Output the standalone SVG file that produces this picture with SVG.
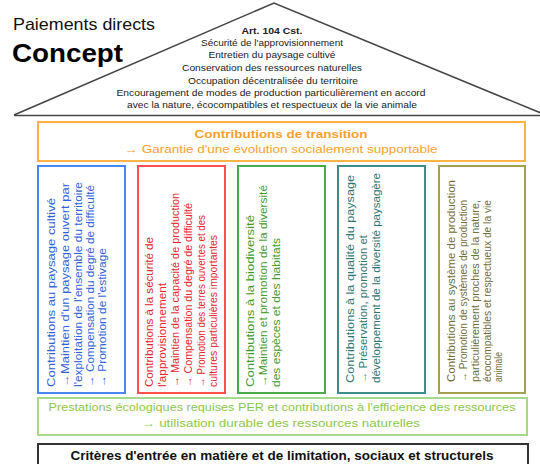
<svg xmlns="http://www.w3.org/2000/svg" width="540" height="464" viewBox="0 0 540 464">
<style>
text{font-family:"Liberation Sans",Arial,sans-serif}
.box{fill:#fff;stroke-width:2}
.roof{font-size:9.5px;fill:#222;text-anchor:middle}
.pt{font-size:11px}
.bl{fill:#2f62d8}.rd{fill:#e8242c}.gr{fill:#3f9a2f}.tl{fill:#2e7676}.ol{fill:#6f6f3c}
</style>
<rect width="540" height="464" fill="#fff"/>
<g id="title">
<text x="13" y="30" font-size="16.5" fill="#111" textLength="142" lengthAdjust="spacingAndGlyphs">Paiements directs</text>
<text x="12" y="62" font-size="25" font-weight="bold" fill="#000" textLength="111" lengthAdjust="spacingAndGlyphs">Concept</text>
</g>
<g id="roof">
<path d="M14,115 L274,3 L548,116" fill="none" stroke="#444" stroke-width="1.6"/>
<line x1="14" y1="115.5" x2="540" y2="115.5" stroke="#444" stroke-width="1.6"/>
<text class="roof" x="272" y="34" font-weight="bold" textLength="61" lengthAdjust="spacingAndGlyphs">Art. 104 Cst.</text>
<text class="roof" x="272" y="46" textLength="142" lengthAdjust="spacingAndGlyphs">Sécurité de l'approvisionnement</text>
<text class="roof" x="272" y="58" textLength="127" lengthAdjust="spacingAndGlyphs">Entretien du paysage cultivé</text>
<text class="roof" x="272" y="71" textLength="180" lengthAdjust="spacingAndGlyphs">Conservation des ressources naturelles</text>
<text class="roof" x="273" y="84" textLength="170" lengthAdjust="spacingAndGlyphs">Occupation décentralisée du territoire</text>
<text class="roof" x="271" y="96" textLength="309" lengthAdjust="spacingAndGlyphs">Encouragement de modes de production particulièrement en accord</text>
<text class="roof" x="272" y="108" textLength="290" lengthAdjust="spacingAndGlyphs">avec la nature, écocompatibles et respectueux de la vie animale</text>
</g>
<g id="transition">
<rect class="box" x="38" y="122" width="487" height="39" stroke="#ffb347"/>
<text x="281" y="138" font-size="11.5" font-weight="bold" fill="#f7a030" text-anchor="middle" textLength="173" lengthAdjust="spacingAndGlyphs">Contributions de transition</text>
<text x="281" y="153" font-size="11.5" fill="#f7a030" text-anchor="middle" textLength="313" lengthAdjust="spacingAndGlyphs">→ Garantie d'une évolution socialement supportable</text>
</g>
<g id="pillar-paysage">
<rect class="box" x="38" y="166" width="87" height="227" stroke="#4a86f0"/>
<g class="pt bl">
<text transform="translate(55,387) rotate(-90)" textLength="189" lengthAdjust="spacingAndGlyphs">Contributions au paysage cultivé</text>
<text transform="translate(68.5,387) rotate(-90)" textLength="204" lengthAdjust="spacingAndGlyphs">→Maintien d'un paysage ouvert par</text>
<text transform="translate(81.5,387) rotate(-90)" textLength="205" lengthAdjust="spacingAndGlyphs">l'exploitation de l'ensemble du territoire</text>
<text transform="translate(94,387) rotate(-90)" textLength="202" lengthAdjust="spacingAndGlyphs">→ Compensation du degré de difficulté</text>
<text transform="translate(106,387) rotate(-90)" textLength="139" lengthAdjust="spacingAndGlyphs">→ Promotion de l'estivage</text>
</g>
</g>
<g id="pillar-securite">
<rect class="box" x="138" y="166" width="87" height="227" stroke="#ff5050"/>
<g class="pt rd" font-size="10.5">
<text transform="translate(153,387) rotate(-90)" textLength="150" lengthAdjust="spacingAndGlyphs">Contributions à la sécurité de</text>
<text transform="translate(166,387) rotate(-90)" textLength="104" lengthAdjust="spacingAndGlyphs">l'approvisionnement</text>
<text transform="translate(179,387) rotate(-90)" textLength="194" lengthAdjust="spacingAndGlyphs">→ Maintien de la capacité de production</text>
<text transform="translate(192,387) rotate(-90)" textLength="184" lengthAdjust="spacingAndGlyphs">→ Compensation du degré de difficulté</text>
<text transform="translate(205,387) rotate(-90)" textLength="172" lengthAdjust="spacingAndGlyphs">→ Promotion des terres ouvertes et des</text>
<text transform="translate(217,387) rotate(-90)" textLength="152" lengthAdjust="spacingAndGlyphs">cultures particulières importantes</text>
</g>
</g>
<g id="pillar-biodiversite">
<rect class="box" x="238" y="166" width="87" height="227" stroke="#4ca84c"/>
<g class="pt gr">
<text transform="translate(254,387) rotate(-90)" textLength="172" lengthAdjust="spacingAndGlyphs">Contributions à la biodiversité</text>
<text transform="translate(267,387) rotate(-90)" textLength="202" lengthAdjust="spacingAndGlyphs">→Maintien et promotion de la diversité</text>
<text transform="translate(279.5,387) rotate(-90)" textLength="149" lengthAdjust="spacingAndGlyphs">des espèces et des habitats</text>
</g>
</g>
<g id="pillar-qualite">
<rect class="box" x="338" y="166" width="87" height="227" stroke="#3e8c8c"/>
<g class="pt tl">
<text transform="translate(354,383) rotate(-90)" textLength="208" lengthAdjust="spacingAndGlyphs">Contributions à la qualité du paysage</text>
<text transform="translate(367,383) rotate(-90)" textLength="148" lengthAdjust="spacingAndGlyphs">→ Préservation, promotion et</text>
<text transform="translate(380,383) rotate(-90)" textLength="210" lengthAdjust="spacingAndGlyphs">développement de la diversité paysagère</text>
</g>
</g>
<g id="pillar-production">
<rect class="box" x="439" y="166" width="86" height="227" stroke="#a0a050"/>
<g class="pt ol" font-size="10.5">
<text transform="translate(455,382) rotate(-90)" textLength="202" lengthAdjust="spacingAndGlyphs">Contributions au système de production</text>
<text transform="translate(467,382) rotate(-90)" textLength="182" lengthAdjust="spacingAndGlyphs">→ Promotion de systèmes de production</text>
<text transform="translate(479,382) rotate(-90)" textLength="182" lengthAdjust="spacingAndGlyphs">particulièrement proches de la nature,</text>
<text transform="translate(491,382) rotate(-90)" textLength="182" lengthAdjust="spacingAndGlyphs">écocompatibles et respectueux de la vie</text>
<text transform="translate(502,382) rotate(-90)" textLength="30" lengthAdjust="spacingAndGlyphs">animale</text>
</g>
</g>
<g id="per">
<rect class="box" x="38" y="398" width="489" height="37" stroke="#a8d88a"/>
<text x="282" y="411" font-size="11.5" fill="#8cc84b" text-anchor="middle" textLength="467" lengthAdjust="spacingAndGlyphs">Prestations écologiques requises PER et contributions à l'efficience des ressources</text>
<text x="281" y="427" font-size="11.5" fill="#8cc84b" text-anchor="middle" textLength="278" lengthAdjust="spacingAndGlyphs">→ utilisation durable des ressources naturelles</text>
</g>
<g id="criteres">
<rect class="box" x="38" y="444" width="490" height="30" stroke="#333"/>
<text x="282" y="460" font-size="12" font-weight="bold" fill="#111" text-anchor="middle" textLength="423" lengthAdjust="spacingAndGlyphs">Critères d'entrée en matière et de limitation, sociaux et structurels</text>
</g>
<g id="connectors"/>
</svg>
